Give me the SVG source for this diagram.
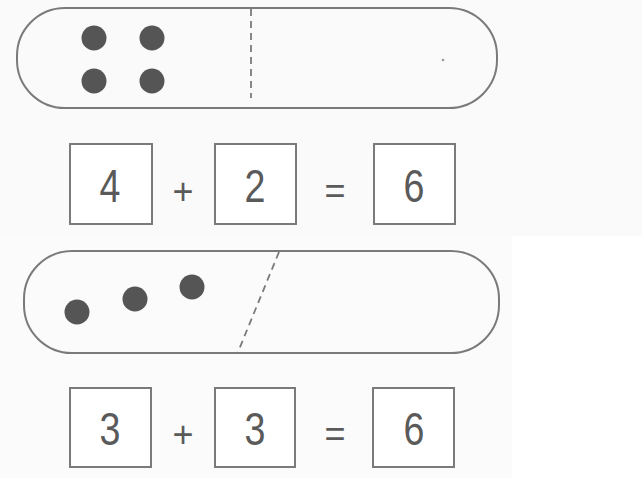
<svg xmlns="http://www.w3.org/2000/svg" width="642" height="478" viewBox="0 0 642 478">
<style>
.pill{fill:none;stroke:#7a7a7a;stroke-width:2}
.box{fill:#fff;stroke:#7a7a7a;stroke-width:2}
.dot{fill:#555}
.dash{stroke:#7a7a7a;stroke-width:1.8;stroke-dasharray:7 5;fill:none}
.num{font-family:"Liberation Sans",Arial,sans-serif;font-size:47px;fill:#5a5a5a;text-anchor:middle}
.op{font-family:"Liberation Sans",Arial,sans-serif;font-size:36px;fill:#5a5a5a;text-anchor:middle}
</style>
<rect x="0" y="0" width="642" height="478" fill="#ffffff"/>
<rect x="0" y="0" width="642" height="236" fill="#fafafa"/>
<rect x="0" y="236" width="512" height="242" fill="#fbfbfb"/>
<g id="pill1">
<rect class="pill" x="17" y="8" width="480" height="100" rx="48"/>
<circle class="dot" cx="94" cy="38" r="12.5"/>
<circle class="dot" cx="152" cy="38" r="12.5"/>
<circle class="dot" cx="94" cy="81" r="12.5"/>
<circle class="dot" cx="152" cy="81" r="12.5"/>
<line class="dash" x1="251" y1="9" x2="251" y2="98"/>
<circle cx="443" cy="60" r="1.3" fill="#999"/>
</g>
<g id="eq1">
<rect class="box" x="70" y="144" width="82" height="80"/>
<text class="num" transform="translate(110,202) scale(0.8,1)">4</text>
<text class="op" x="183" y="204">+</text>
<rect class="box" x="215" y="144" width="81" height="80"/>
<text class="num" transform="translate(255,202) scale(0.8,1)">2</text>
<text class="op" x="335" y="203">=</text>
<rect class="box" x="374" y="144" width="81" height="80"/>
<text class="num" transform="translate(414,202) scale(0.8,1)">6</text>
</g>
<g id="pill2">
<rect class="pill" x="24" y="251" width="475" height="102" rx="48"/>
<circle class="dot" cx="77" cy="312" r="12.5"/>
<circle class="dot" cx="135" cy="299" r="12.5"/>
<circle class="dot" cx="192" cy="287" r="12.5"/>
<line class="dash" x1="279" y1="252" x2="238" y2="352"/>
</g>
<g id="eq2">
<rect class="box" x="70" y="388" width="81" height="79"/>
<text class="num" transform="translate(110,445) scale(0.8,1)">3</text>
<text class="op" x="183" y="447">+</text>
<rect class="box" x="215" y="388" width="80" height="79"/>
<text class="num" transform="translate(255,445) scale(0.8,1)">3</text>
<text class="op" x="335" y="446">=</text>
<rect class="box" x="373" y="388" width="81" height="79"/>
<text class="num" transform="translate(414,445) scale(0.8,1)">6</text>
</g>
<g id="connectors"></g>
</svg>
